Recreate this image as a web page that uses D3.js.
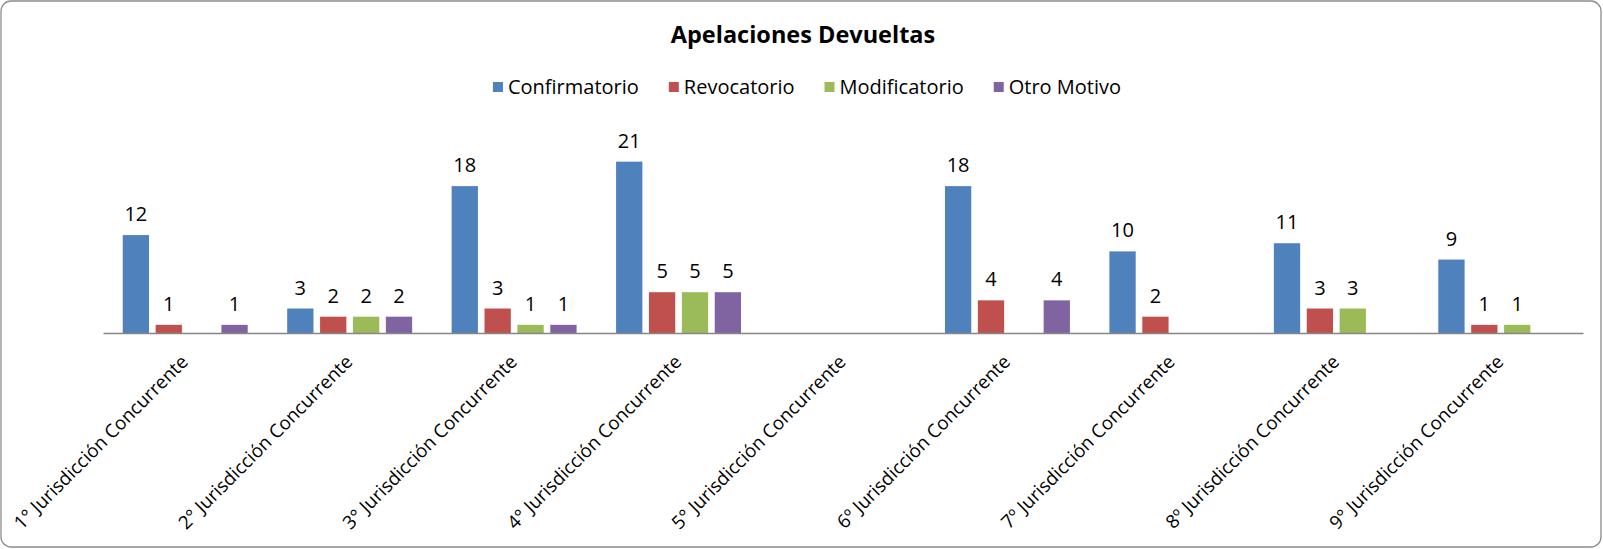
<!DOCTYPE html>
<html>
<head>
<meta charset="utf-8">
<script src="https://cdn.jsdelivr.net/npm/d3@7"></script>
<style>
  body { margin: 0; background: #fff; }
  text { font-family: "Open Sans", "Noto Sans", sans-serif; fill: #000; }
</style>
</head>
<body>
<script>
// chart data
var categories = [
    "1° Jurisdicción Concurrente",
    "2° Jurisdicción Concurrente",
    "3° Jurisdicción Concurrente",
    "4° Jurisdicción Concurrente",
    "5° Jurisdicción Concurrente",
    "6º Jurisdicción Concurrente",
    "7º Jurisdicción Concurrente",
    "8º Jurisdicción Concurrente",
    "9° Jurisdicción Concurrente"
];
var seriesNames   = ["Confirmatorio", "Revocatorio", "Modificatorio", "Otro Motivo"];
var seriesColors  = ["#4F81BD", "#C0504D", "#9BBB59", "#8064A2"];
var confirmatorio = [12, 3, 18, 21, 0, 18, 10, 11, 9];
var revocatorio   = [1, 2, 3, 5, 0, 4, 2, 3, 1];
var modificatorio = [0, 2, 1, 5, 0, 0, 0, 3, 1];
var otroMotivo    = [1, 2, 1, 5, 0, 4, 0, 0, 0];

var seriesValues = [confirmatorio, revocatorio, modificatorio, otroMotivo];

var width  = 1603,
    height = 549,
    plot   = { left: 103, right: 1583, top: 129, bottom: 333 };

var svg = d3.select("body")
    .append("svg")
    .attr("width", width)
    .attr("height", height);

// outer frame
svg.append("rect")
    .attr("x", 1).attr("y", 1)
    .attr("width", width - 3).attr("height", height - 3)
    .attr("rx", 10).attr("ry", 10)
    .attr("fill", "#fff")
    .attr("stroke", "#8c8c8c")
    .attr("stroke-width", 1.3);

// title
svg.append("text")
    .attr("x", 803)
    .attr("y", 43)
    .attr("text-anchor", "middle")
    .style("font-size", "23.5px")
    .style("font-weight", "bold")
    .text("Apelaciones Devueltas");

// scales
var x0 = d3.scaleBand()
    .domain(categories)
    .range([plot.left, plot.right])
    .paddingInner(0)
    .paddingOuter(0);

// excel style gap width of 100%: group occupies 4/5 of the category
var x1 = d3.scaleBand()
    .domain(seriesNames)
    .range([x0.bandwidth() / 10, x0.bandwidth() * 9 / 10]);

var y = d3.scaleLinear()
    .domain([0, 25])
    .range([plot.bottom, plot.top]);

var inset = 3.3;

// bars + value labels
seriesNames.forEach(function(name, s) {
    var rows = categories.map(function(c, i) {
        return { cat: c, v: seriesValues[s][i] };
    }).filter(function(d) { return d.v > 0; });

    var g = svg.append("g").attr("class", "series-" + s);

    g.selectAll("rect")
        .data(rows)
        .enter()
        .append("rect")
        .attr("x", function(d) { return x0(d.cat) + x1(name) + inset; })
        .attr("y", function(d) { return y(d.v); })
        .attr("width", x1.bandwidth() - inset * 2)
        .attr("height", function(d) { return y(0) - y(d.v); })
        .attr("fill", seriesColors[s]);

    g.selectAll("text")
        .data(rows)
        .enter()
        .append("text")
        .attr("x", function(d) { return x0(d.cat) + x1(name) + x1.bandwidth() / 2; })
        .attr("y", function(d) { return y(d.v) - 14; })
        .attr("text-anchor", "middle")
        .style("font-size", "20px")
        .text(function(d) { return d.v; });
});

// category axis
var xAxis = svg.append("g")
    .attr("transform", "translate(0," + plot.bottom + ")")
    .call(d3.axisBottom(x0).tickSize(0).tickPadding(0));

xAxis.select(".domain")
    .attr("stroke", "#868686")
    .attr("stroke-width", 1.5);

xAxis.selectAll(".tick text")
    .attr("text-anchor", "end")
    .attr("dy", null)
    .attr("y", null)
    .attr("transform", "translate(4,30) rotate(-45)")
    .style("font-size", "18.7px")
    .style("font-family", "'Open Sans', sans-serif")
    .attr("fill", "#000");

// legend
var legend = svg.append("g");
var cursor = 0, gap = 30;
seriesNames.forEach(function(name, s) {
    var it = legend.append("g");
    it.append("rect")
        .attr("x", 0).attr("y", -5)
        .attr("width", 10).attr("height", 10)
        .attr("fill", seriesColors[s]);
    var t = it.append("text")
        .attr("x", 15).attr("y", 7)
        .style("font-size", "20px")
        .text(name);
    var w = 15 + t.node().getComputedTextLength();
    it.attr("transform", "translate(" + cursor + ",0)");
    cursor += w + gap;
});
var legendWidth = cursor - gap;
legend.attr("transform", "translate(" + (807 - legendWidth / 2) + ",87)");
</script>
</body>
</html>
